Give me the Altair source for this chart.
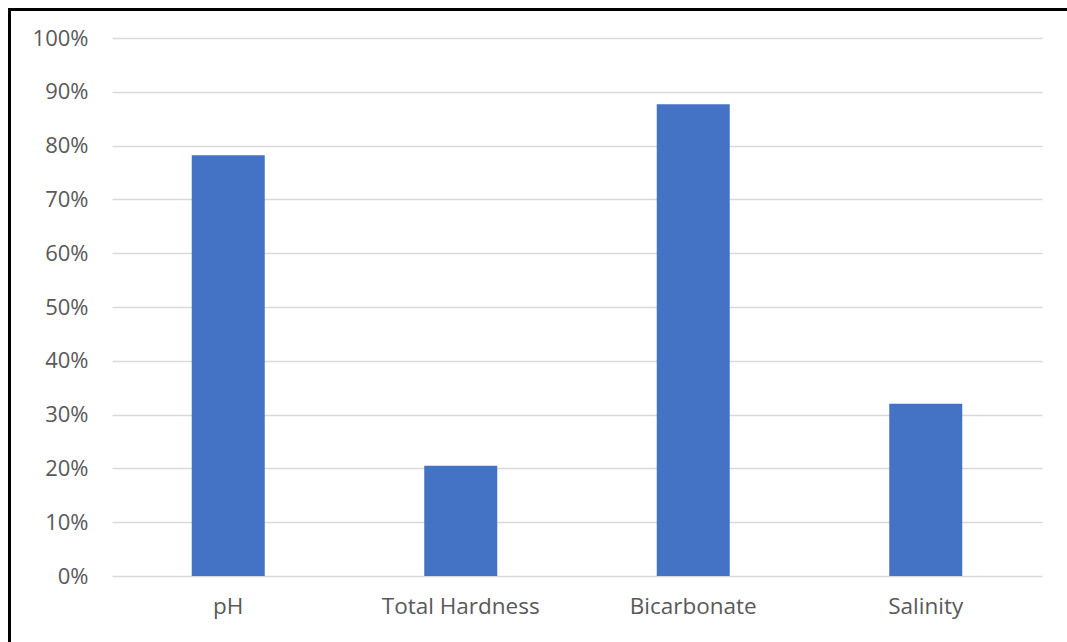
import altair as alt
import pandas as pd

categories = ["pH", "Total Hardness", "Bicarbonate", "Salinity"]
values = [0.782, 0.205, 0.877, 0.320]

df = pd.DataFrame({"category": categories, "value": values})

FONT = "Open Sans"
TXT = "#595959"

bars = alt.Chart(df).mark_bar(color="#4472C4").encode(
    x=alt.X("category:N", sort=categories,
            scale=alt.Scale(paddingInner=0.686, paddingOuter=0.343),
            axis=alt.Axis(title=None, labelAngle=0, labelFont=FONT, labelFontSize=22.5,
                          labelColor=TXT, labelPadding=19, ticks=False, domain=False,
                          grid=False)),
    y=alt.Y("value:Q", scale=alt.Scale(domain=[0, 1], nice=False),
            axis=alt.Axis(title=None, format=".0%", values=[i / 10 for i in range(11)],
                          labelFont=FONT, labelFontSize=22, labelColor=TXT,
                          labelPadding=24, ticks=False, domain=False,
                          gridColor="#d9d9d9", gridWidth=1.5)),
)

top_line = alt.Chart(df).mark_rule(color="black", strokeWidth=3).encode(
    x=alt.value(-104), x2=alt.value(955), y=alt.value(-28.5)
)
left_line = alt.Chart(df).mark_rule(color="black", strokeWidth=3).encode(
    x=alt.value(-102.5), y=alt.value(-30), y2=alt.value(604)
)

chart = alt.layer(bars, top_line, left_line).properties(
    width=930, height=538,
    autosize=alt.AutoSizeParams(type="none"),
    padding={"left": 112, "top": 38, "right": 25, "bottom": 66},
    background="white",
).configure_view(stroke=None)

chart.save("out.html", embed_options={"renderer": "svg", "actions": False})
